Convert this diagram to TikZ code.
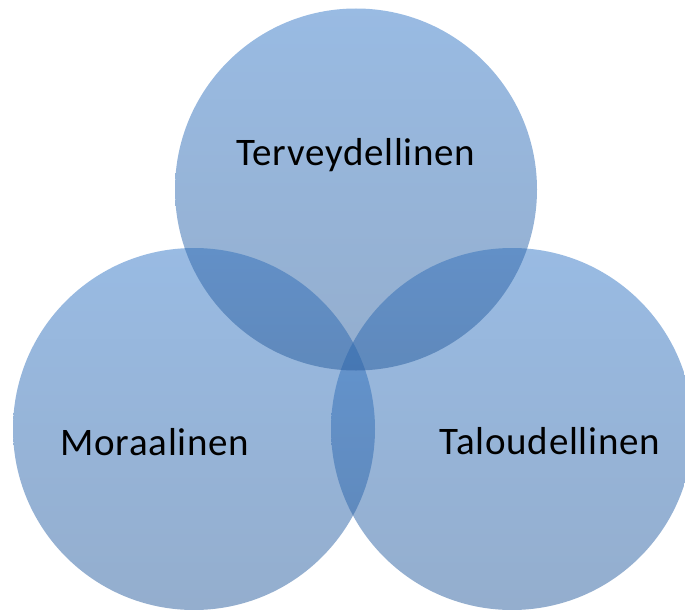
\documentclass[tikz,border=0pt]{standalone}
\usepackage{fontspec}
\setmainfont{Carlito}[LetterSpace=1.8]
\definecolor{venntop}{RGB}{51,119,199}
\definecolor{vennbot}{RGB}{41,93,157}
\begin{document}
\begin{tikzpicture}[x=1pt,y=-1pt,
  venn/.style={circle, minimum size=362pt, inner sep=0pt, draw=none,
    top color=venntop, bottom color=vennbot, fill opacity=0.5},
  lbl/.style={anchor=base, inner sep=0pt, text=black, font=\fontsize{39}{47}\selectfont}]
\useasboundingbox (0,0) rectangle (685,610);
\clip (0,0) rectangle (685,610);
\node[venn] (left) at (194,429) {};
\node[venn] (right) at (512,429) {};
\node[venn] (top) at (356,189.5) {};
\node[lbl] (t1) at (356,165) {Terveydellinen};
\node[lbl] (t2) at (155,455) {Moraalinen};
\node[lbl] (t3) at (550,454) {Taloudellinen};
\end{tikzpicture}
\end{document}
